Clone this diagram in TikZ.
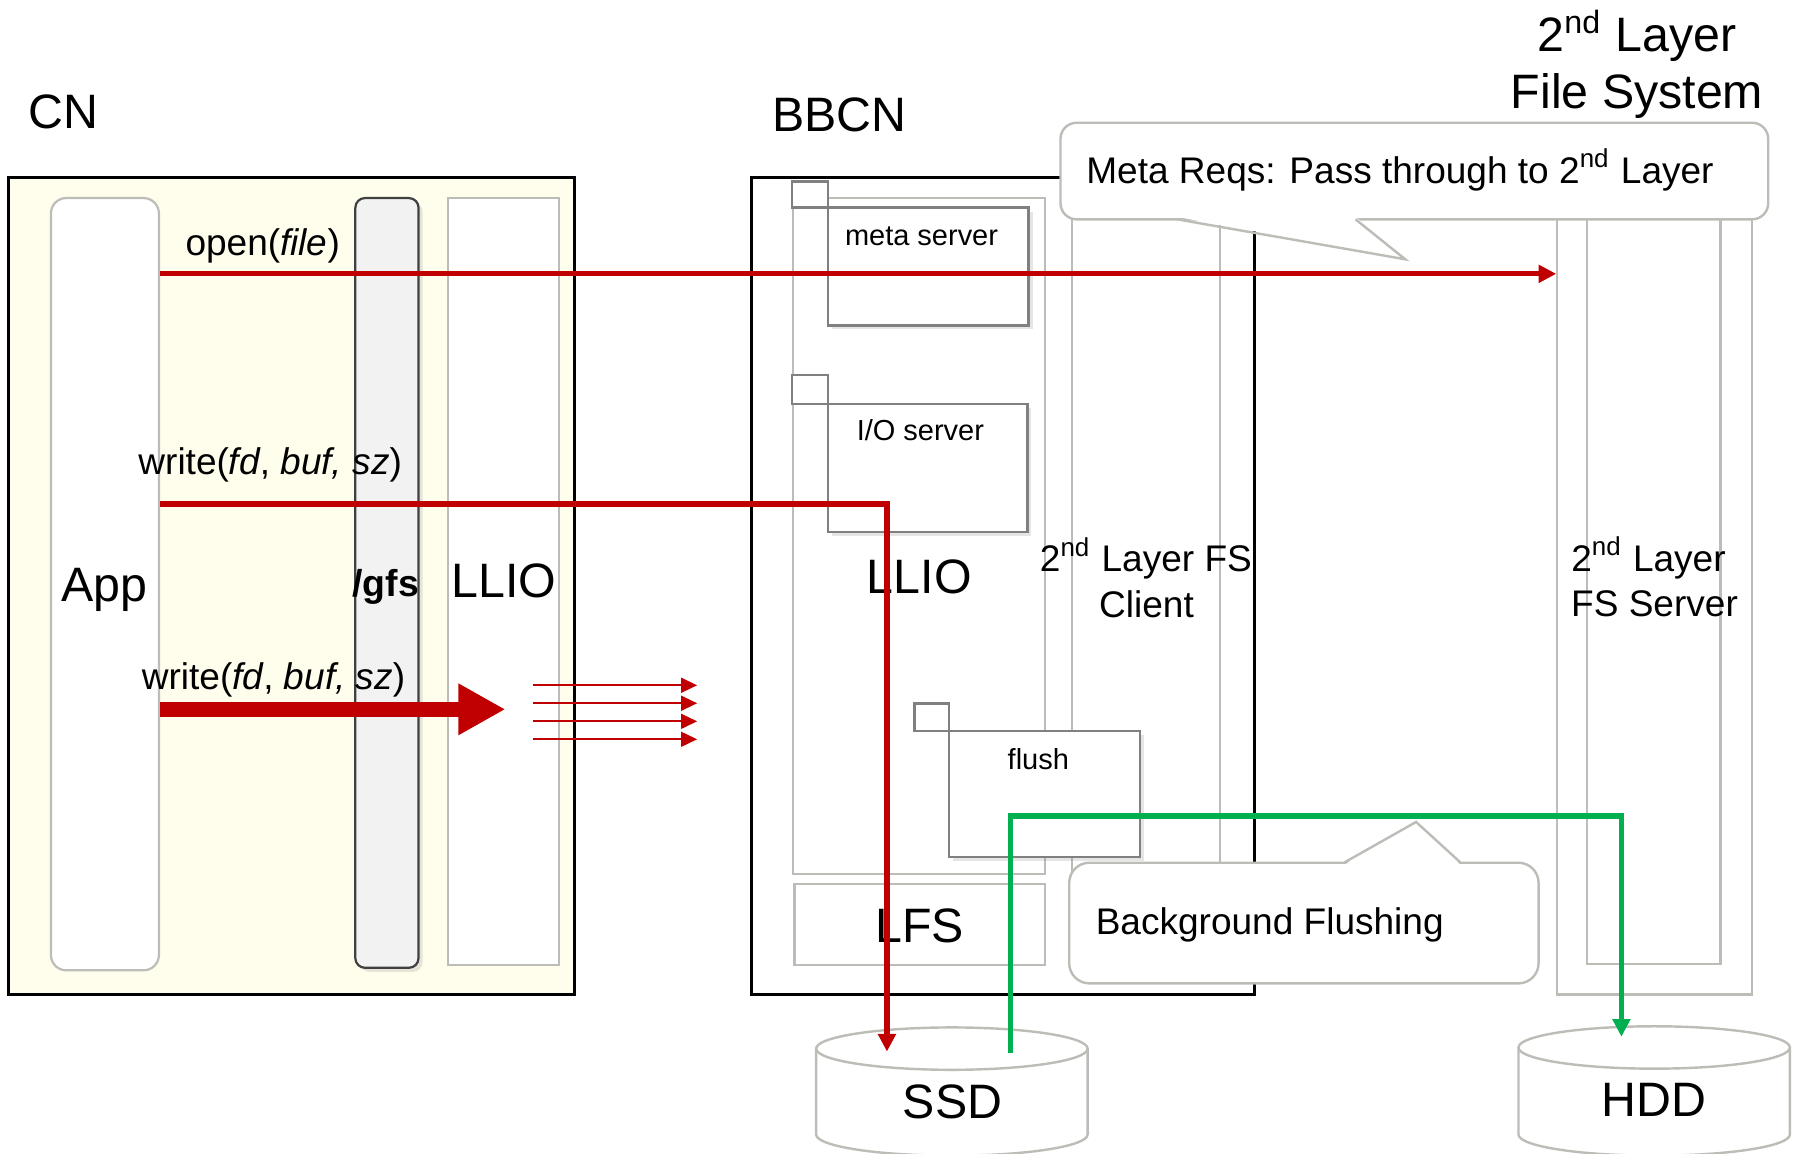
\documentclass[tikz,border=0pt]{standalone}
\usepackage{fontspec}
\setmainfont{Liberation Sans}
\usetikzlibrary{arrows.meta, positioning, fit, shadows}
\definecolor{reqred}{HTML}{C00000}
\definecolor{flushgreen}{HTML}{00B050}
\definecolor{cnfill}{HTML}{FFFDEC}
\definecolor{framegray}{HTML}{BDBDB8}
\definecolor{srvgray}{HTML}{808080}
\definecolor{gfsfill}{HTML}{F2F2F2}

\begin{document}
\begin{tikzpicture}[
    x=0.01cm, y=-0.01cm,
    big/.style={font=\fontsize{12}{14}\selectfont, inner sep=0pt},
    mid/.style={font=\fontsize{9.2}{11}\selectfont, inner sep=0pt},
    small/.style={font=\fontsize{7.2}{9}\selectfont, inner sep=0pt},
    host/.style={draw=black, line width=0.6pt, inner sep=0pt},
    lane/.style={draw=framegray, line width=0.55pt, fill=white, inner sep=0pt},
    srvbox/.style={draw=srvgray, line width=0.6pt, fill=white, inner sep=0pt,
        drop shadow={shadow xshift=1pt, shadow yshift=-1pt, opacity=.2}},
    tab/.style={draw=srvgray, line width=0.6pt, fill=white, inner sep=0pt},
    callout/.style={draw=framegray, line width=0.6pt, fill=white, inner sep=0pt},
    disk/.style={draw=framegray, line width=0.6pt, fill=white},
    req/.style={draw=reqred, line width=1.3pt, -{Triangle[length=4.4pt, width=4.3pt]}},
    bigreq/.style={draw=reqred, line width=3.6pt, -{Triangle[length=11.7pt, width=12pt]}},
    fanreq/.style={draw=reqred, line width=0.5pt, -{Triangle[length=4pt, width=3.7pt]}},
    flushline/.style={draw=flushgreen, line width=1.3pt}
]
\useasboundingbox (0,0) rectangle (1568,1008);

% Titles
\node[big, anchor=base west] (cntitle) at (24,112) {CN};
\node[big, anchor=base west] (bbcntitle) at (674,115) {BBCN};
\node[big, anchor=base] (fstitlea) at (1430,45) {2\textsuperscript{nd} Layer};
\node[big, anchor=base] (fstitleb) at (1430,95) {File System};

% Compute node
\node[host, fill=cnfill, fit={(7.4,154.9) (501.7,868.9)}] (cn) {};
\node[lane, rounded corners=3.8pt, fit={(44.5,173) (138.8,847.6)}] (app) {};
\node[lane, draw=black!75, fill=gfsfill, rounded corners=2.4pt, fit={(310.4,173) (365.6,845.4)},
    drop shadow={shadow xshift=1pt, shadow yshift=-1pt, opacity=.2}] (gfs) {};
\node[lane, fit={(391.3,173) (488.3,843)}] (cnllio) {};
\node[big, anchor=base] (applbl) at (91,525) {App};
\node[big, font=\fontsize{9.3}{11}\selectfont\bfseries, anchor=base] (gfslbl) at (337,521) {/gfs};
\node[big, anchor=base] (cnlliolbl) at (440,522) {LLIO};

% Burst buffer compute node
\node[host, fill=white, fit={(656.4,154.9) (1095.7,868.9)}] (bbcn) {};
\node[lane, fit={(692.4,173) (912.6,763.7)}] (bblio) {};
\node[lane, fit={(694,772.2) (912.6,843)}] (lfs) {};
\node[lane, fit={(936.7,173) (1065.5,763.7)}] (client) {};
\node[big, anchor=base] (bbliolbl) at (803,518.5) {LLIO};
\node[big, anchor=base] (lfslbl) at (803.5,823) {LFS};
\node[mid, anchor=base] (clientlbla) at (1001,499.6) {2\textsuperscript{nd} Layer FS};
\node[mid, anchor=base] (clientlblb) at (1001.5,539) {Client};

% Servers inside LLIO
\node[srvbox, fit={(723.1,181.4) (898.5,284.2)}] (meta) {};
\node[tab, fit={(691.6,158.7) (723.1,181.4)}] (metatab) {};
\node[small, anchor=base] (metalbl) at (805,214.6) {meta server};
\node[srvbox, fit={(723.1,352.8) (897.5,464.6)}] (iosrv) {};
\node[tab, fit={(691.6,327.7) (723.1,352.8)}] (iotab) {};
\node[small, anchor=base] (iolbl) at (804,385) {I/O server};
\node[srvbox, fit={(829,638.3) (995.8,748.6)}] (flush) {};
\node[tab, fit={(799,614.6) (829,638.3)}] (flushtab) {};
\node[small, anchor=base] (flushlbl) at (907,672.4) {flush};

% 2nd layer file system server
\node[lane, fill=none, fit={(1360.4,173) (1530.1,868.8)}] (srvout) {};
\node[lane, fill=none, fit={(1386,173) (1503,842.3)}] (srvin) {};
\node[mid, anchor=base] (srvlbla) at (1440,499) {2\textsuperscript{nd} Layer};
\node[mid, anchor=base] (srvlblb) at (1445.3,538.4) {FS Server};

% Callouts
\node[callout, rounded corners=4pt, fit={(926.4,107.2) (1544.6,191.6)}] (metanote) {};
\coordinate (metaptl) at (1028.4,191.6);
\coordinate (metaptr) at (1184.1,191.6);
\coordinate (metatip) at (1227.6,226.5);
\fill[white] ([yshift=0.6pt]metaptl) -- (metatip) -- ([yshift=0.6pt]metaptr) -- cycle;
\draw[draw=framegray, line width=0.6pt] (metaptl) -- (metatip) -- (metaptr);
\node[mid, anchor=base west] (metanotelbl) at (948.3,160.1) {Meta Reqs: Pass through to 2\textsuperscript{nd} Layer};

\node[callout, rounded corners=5pt, fit={(934,753.6) (1344,859)}] (bgnote) {};
\coordinate (bgptl) at (1174,753.6);
\coordinate (bgptr) at (1276,753.6);
\coordinate (bgtip) at (1237,718);
\fill[white] ([yshift=-0.6pt]bgptl) -- (bgtip) -- ([yshift=-0.6pt]bgptr) -- cycle;
\draw[draw=framegray, line width=0.6pt] (bgptl) -- (bgtip) -- (bgptr);
\node[mid, anchor=base west] (bgnotelbl) at (956.5,816.7) {Background Flushing};

% Disks
\coordinate (ssdtop) at (831.5,916);
\draw[disk] ([xshift=-1.185cm]ssdtop) -- ++(0,75) arc[start angle=180, end angle=360, x radius=1.185cm, y radius=0.185cm] -- ([xshift=1.185cm]ssdtop);
\draw[disk] (ssdtop) ellipse[x radius=1.185cm, y radius=0.185cm];
\node[big, anchor=base] (ssd) at (832,976.9) {SSD};
\coordinate (hddtop) at (1445,915);
\draw[disk] ([xshift=-1.185cm]hddtop) -- ++(0,76) arc[start angle=180, end angle=360, x radius=1.185cm, y radius=0.185cm] -- ([xshift=1.185cm]hddtop);
\draw[disk] (hddtop) ellipse[x radius=1.185cm, y radius=0.185cm];
\node[big, anchor=base] (hdd) at (1444.8,975.5) {HDD};

% Request flows
\node[mid, anchor=base] (openlbl) at (229.5,223) {open(\textit{file})};
\node[mid, anchor=base] (wrlbla) at (236,414.7) {write(\textit{fd}, \textit{buf,} \textit{sz})};
\node[mid, anchor=base] (wrlblb) at (239,602.7) {write(\textit{fd}, \textit{buf,} \textit{sz})};
\coordinate (openy) at (0,239.2);
\coordinate (wry) at (0,440.2);
\coordinate (bigtip) at (441.5,619.6);
\coordinate (ssdin) at (774.8,918.6);
\coordinate (ssdout) at (882.8,920);
\coordinate (flushy) at (0,712.8);
\coordinate (hddin) at (1416.4,905.6);
\coordinate (fan) at (466,598.6);

\draw[req] (app.east |- openy) -- (srvout.west |- openy);
\draw[req] (app.east |- wry) -- (ssdin |- wry) -- (ssdin);
\draw[bigreq] (app.east |- bigtip) -- (bigtip);
\foreach \dy in {0,15.7,31.5,47.2}{\draw[fanreq] (fan) ++(0,\dy) -- ++(143,0);}

% Background flushing to 2nd layer
\draw[flushline, -{Triangle[length=4.4pt, width=4.3pt]}] (ssdout) -- (ssdout |- flushy) -| (hddin);

\end{tikzpicture}
\end{document}
